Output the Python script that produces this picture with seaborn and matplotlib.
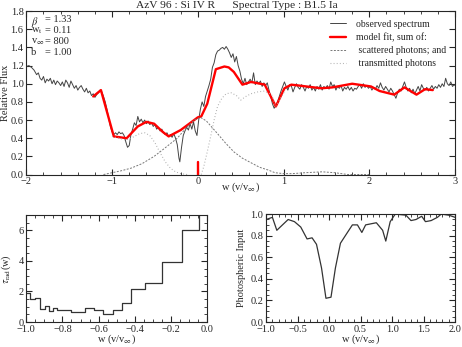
import numpy as np
import matplotlib
matplotlib.use("Agg")
import matplotlib.pyplot as plt
import seaborn as sns
from matplotlib.ticker import MultipleLocator

# observed spectrum (w, relative flux)
obs_w = [-2.00, -1.97, -1.94, -1.91, -1.88, -1.86, -1.84, -1.82, -1.80, -1.78,
         -1.76, -1.74, -1.72, -1.70, -1.68, -1.66, -1.64, -1.62, -1.60, -1.58,
         -1.56, -1.54, -1.52, -1.50, -1.48, -1.46, -1.44, -1.42, -1.40, -1.38,
         -1.36, -1.34, -1.32, -1.30, -1.28, -1.26, -1.24, -1.22, -1.20, -1.18,
         -1.16, -1.14, -1.12, -1.10, -1.08, -1.06, -1.04, -1.02, -1.00, -0.98,
         -0.96, -0.94, -0.92, -0.90, -0.88, -0.86, -0.84, -0.82, -0.80, -0.78,
         -0.76, -0.74, -0.72, -0.70, -0.68, -0.66, -0.64, -0.62, -0.60, -0.58,
         -0.56, -0.54, -0.52, -0.50, -0.48, -0.46, -0.44, -0.42, -0.40, -0.38,
         -0.36, -0.34, -0.32, -0.30, -0.28, -0.26, -0.24, -0.22, -0.21, -0.19,
         -0.17, -0.15, -0.13, -0.11, -0.09, -0.07, -0.05, -0.03, -0.01, 0.01,
         0.03, 0.05, 0.07, 0.09, 0.11, 0.13, 0.15, 0.17, 0.19, 0.21,
         0.23, 0.25, 0.27, 0.29, 0.31, 0.33, 0.35, 0.37, 0.39, 0.41,
         0.43, 0.45, 0.47, 0.49, 0.51, 0.53, 0.55, 0.57, 0.59, 0.61,
         0.63, 0.65, 0.67, 0.69, 0.71, 0.73, 0.75, 0.77, 0.79, 0.81,
         0.83, 0.85, 0.87, 0.89, 0.91, 0.93, 0.95, 0.97, 0.99, 1.01,
         1.03, 1.05, 1.07, 1.09, 1.11, 1.13, 1.15, 1.17, 1.19, 1.21,
         1.23, 1.25, 1.27, 1.29, 1.31, 1.33, 1.35, 1.37, 1.39, 1.41,
         1.43, 1.45, 1.47, 1.49, 1.51, 1.53, 1.55, 1.57, 1.59, 1.61,
         1.63, 1.65, 1.67, 1.69, 1.71, 1.73, 1.75, 1.77, 1.79, 1.81,
         1.83, 1.85, 1.87, 1.89, 1.91, 1.93, 1.95, 1.97, 1.99, 2.01,
         2.03, 2.05, 2.07, 2.09, 2.11, 2.13, 2.15, 2.17, 2.19, 2.21,
         2.23, 2.25, 2.27, 2.29, 2.31, 2.33, 2.35, 2.37, 2.39, 2.41,
         2.43, 2.45, 2.47, 2.49, 2.51, 2.53, 2.55, 2.57, 2.59, 2.61,
         2.63, 2.65, 2.67, 2.69, 2.71, 2.73, 2.75, 2.77, 2.79, 2.81,
         2.83, 2.85, 2.87, 2.89, 2.91, 2.93, 2.95, 2.97, 2.99, 3.00]
obs_f = [1.19, 1.20, 1.18, 1.15, 1.10, 1.12, 1.06, 1.04, 1.08, 1.01,
         1.05, 1.03, 1.06, 1.00, 1.04, 0.99, 1.03, 1.01, 0.98, 1.02,
         0.97, 1.04, 1.01, 0.96, 1.03, 0.99, 0.95, 0.98, 0.93, 0.96,
         0.98, 0.94, 0.91, 0.95, 0.90, 0.92, 0.87, 0.89, 0.85, 0.88,
         0.90, 0.93, 0.91, 0.86, 0.80, 0.72, 0.62, 0.53, 0.47, 0.44,
         0.46, 0.44, 0.47, 0.45, 0.46, 0.43, 0.36, 0.30, 0.32, 0.44,
         0.50, 0.57, 0.54, 0.64, 0.58, 0.61, 0.57, 0.60, 0.56, 0.59,
         0.55, 0.57, 0.53, 0.55, 0.50, 0.52, 0.48, 0.50, 0.46, 0.44,
         0.46, 0.42, 0.44, 0.41, 0.45, 0.40, 0.33, 0.18, 0.14, 0.30,
         0.43, 0.48, 0.52, 0.49, 0.56, 0.50, 0.58, 0.48, 0.43, 0.60,
         0.72, 0.80, 0.75, 0.86, 0.92, 0.98, 1.05, 1.18, 1.23, 1.32,
         1.36, 1.37, 1.39, 1.40, 1.38, 1.41, 1.38, 1.34, 1.29, 1.33,
         1.24, 1.30, 1.20, 1.14, 1.05, 1.00, 1.06, 0.99, 1.02, 1.05,
         1.01, 1.12, 0.99, 1.03, 1.00, 1.03, 0.97, 1.01, 0.98, 1.01,
         0.93, 0.86, 0.78, 0.73, 0.76, 0.80, 0.86, 0.92, 0.97, 1.02,
         0.97, 0.93, 0.99, 0.98, 0.91, 0.96, 1.00, 0.96, 0.94, 0.99,
         0.96, 0.92, 0.97, 0.95, 0.99, 0.93, 0.96, 0.92, 0.97, 0.94,
         0.99, 0.93, 0.97, 0.95, 0.98, 0.94, 1.02, 0.97, 0.99, 0.93,
         0.97, 0.95, 0.98, 0.92, 0.96, 0.94, 0.97, 0.93, 0.96, 0.92,
         0.95, 0.94, 0.97, 0.99, 0.95, 1.00, 0.96, 0.98, 0.95, 0.97,
         0.93, 0.96, 0.94, 0.98, 0.95, 1.01, 0.96, 0.93, 0.97, 0.94,
         0.91, 0.95, 0.92, 0.88, 0.84, 0.90, 0.94, 0.92, 0.97, 1.02,
         0.96, 0.92, 0.95, 0.90, 0.94, 0.89, 0.93, 0.97, 0.92, 0.99,
         0.95, 0.93, 0.96, 0.92, 0.95, 0.98, 0.94, 0.97, 0.95, 0.99,
         0.96, 1.00, 0.97, 1.06, 1.00, 0.98, 1.02, 0.97, 0.99, 0.98]

# model fit
model_w = [-1.22, -1.13, -0.98, -0.83, -0.70, -0.60, -0.51, -0.41, -0.34, -0.20,
           -0.10, 0.00, 0.04, 0.11, 0.21, 0.31, 0.36, 0.42, 0.52, 0.62,
           0.78, 0.91, 1.01, 1.09, 1.18, 1.44, 1.57, 1.80, 2.02, 2.12,
           2.29, 2.41, 2.55, 2.65, 2.74]
model_f = [0.86, 0.93, 0.42, 0.40, 0.53, 0.58, 0.56, 0.47, 0.42, 0.49,
           0.56, 0.63, 0.64, 0.78, 1.16, 1.19, 1.18, 1.13, 0.99, 1.02,
           0.99, 0.75, 0.95, 0.99, 0.98, 0.95, 0.96, 1.00, 0.97, 0.92,
           0.88, 0.96, 0.88, 0.94, 0.93]

# scattered photons
scat_w = [-1.10, -1.00, -0.90, -0.78, -0.65, -0.51, -0.40, -0.32, -0.24, -0.12,
          -0.04, 0.03, 0.10, 0.23, 0.32, 0.42, 0.52, 0.62, 0.72, 0.82,
          0.90, 1.00, 1.10, 1.25, 1.45, 1.60, 1.75, 2.00]
scat_f = [0.00, 0.02, 0.04, 0.07, 0.12, 0.20, 0.28, 0.34, 0.40, 0.53,
          0.60, 0.63, 0.59, 0.45, 0.35, 0.25, 0.18, 0.13, 0.08, 0.05,
          0.02, 0.01, 0.01, 0.02, 0.03, 0.02, 0.00, 0.00]

# transmitted photons (blue and red parts)
trans1_w = [-1.00, -0.92, -0.84, -0.76, -0.68, -0.62, -0.56, -0.50, -0.44, -0.38,
            -0.32, -0.26, -0.20, -0.12]
trans1_f = [0.42, 0.40, 0.38, 0.41, 0.45, 0.46, 0.43, 0.35, 0.24, 0.14,
            0.07, 0.03, 0.01, 0.00]
trans2_w = [0.04, 0.07, 0.11, 0.15, 0.19, 0.23, 0.28, 0.33, 0.39, 0.45,
            0.50, 0.56, 0.62, 0.70, 0.78, 0.86, 0.91, 0.97, 1.02]
trans2_f = [0.00, 0.09, 0.25, 0.42, 0.60, 0.75, 0.84, 0.89, 0.90, 0.87,
            0.82, 0.86, 0.89, 0.91, 0.92, 0.88, 0.75, 0.85, 0.93]

# tau_rad(w) step function
tau_w = [-1.000, -0.978, -0.954, -0.923, -0.894, -0.875, -0.853, -0.831, -0.752, -0.673,
         -0.624, -0.574, -0.523, -0.472, -0.422, -0.345, -0.248, -0.141, -0.046, 0.0]
tau_v = [1.93, 1.50, 1.60, 0.86, 1.07, 0.75, 0.90, 0.79, 0.64, 0.90,
         0.79, 0.51, 0.79, 1.24, 2.14, 2.53, 3.94, 6.00, 9.00, 9.00]

# photospheric input
phot_w = [-1.00, -0.90, -0.83, -0.65, -0.55, -0.45, -0.35, -0.27, -0.20, -0.12,
          -0.05, 0.03, 0.10, 0.18, 0.28, 0.37, 0.45, 0.52, 0.58, 0.75,
          0.85, 0.90, 0.97, 1.05, 1.22, 1.30, 1.38, 1.47, 1.53, 1.62,
          1.72, 1.78, 1.90, 2.00]
phot_v = [0.95, 0.97, 0.85, 0.95, 0.93, 0.88, 0.77, 0.78, 0.72, 0.50,
          0.22, 0.23, 0.50, 0.73, 0.82, 0.90, 0.90, 0.83, 0.90, 0.92,
          0.85, 0.75, 0.93, 1.00, 0.99, 0.94, 0.95, 0.98, 0.93, 0.94,
          0.97, 1.00, 0.99, 0.97]

params = [(r"$\beta$", "1.33"), (r"w$_{\rm t}$", "0.11"),
          (r"v$_\infty$", "800"), ("b", "1.00")]

sns.set_style("ticks")
plt.rcParams["font.family"] = ["Liberation Serif", "DejaVu Serif"]
plt.rcParams["mathtext.fontset"] = "stix"
plt.rcParams["xtick.direction"] = "in"
plt.rcParams["ytick.direction"] = "in"
plt.rcParams["axes.linewidth"] = 0.8
plt.rcParams["xtick.labelsize"] = 7.5
plt.rcParams["ytick.labelsize"] = 7.5
plt.rcParams["xtick.major.size"] = 4
plt.rcParams["ytick.major.size"] = 4
plt.rcParams["xtick.minor.size"] = 2
plt.rcParams["ytick.minor.size"] = 2
plt.rcParams["xtick.major.pad"] = 2
plt.rcParams["ytick.major.pad"] = 2

fig = plt.figure(figsize=(4.62, 3.47), dpi=100)
ax = fig.add_axes([0.057, 0.497, 0.928, 0.471])
ax2 = fig.add_axes([0.057, 0.072, 0.391, 0.308])
ax3 = fig.add_axes([0.576, 0.072, 0.409, 0.311])

obs_c = "#444444"
sns.lineplot(x=obs_w, y=obs_f, ax=ax, color=obs_c, lw=0.7, sort=False,
             label="observed spectrum")
sns.lineplot(x=model_w, y=model_f, ax=ax, color="red", lw=1.7, sort=False,
             label="model fit, sum of:")
sns.lineplot(x=scat_w, y=scat_f, ax=ax, color="#777777", lw=0.7, sort=False,
             label=" scattered photons; and")
ax.lines[-1].set_dashes([2, 1.5])
sns.lineplot(x=trans1_w, y=trans1_f, ax=ax, color="#aaaaaa", lw=0.8, sort=False,
             label=" transmitted photons")
ax.lines[-1].set_dashes([0.8, 2])
sns.lineplot(x=trans2_w, y=trans2_f, ax=ax, color="#aaaaaa", lw=0.8, sort=False)
ax.lines[-1].set_dashes([0.8, 2])
ax.plot([0, 0], [0, 0.14], color="red", lw=1.7)

ax.set_xlim(-2, 3)
ax.set_ylim(0, 1.8)
ax.xaxis.set_major_locator(MultipleLocator(1))
ax.xaxis.set_minor_locator(MultipleLocator(0.2))
ax.yaxis.set_major_locator(MultipleLocator(0.2))
ax.set_ylabel("Relative Flux", fontsize=7.5)
ax.yaxis.set_label_coords(-0.039, 0.5)
ax.set_xlabel(r"w (v/v$_\infty$)", fontsize=7.5, va="top")
ax.xaxis.set_label_coords(0.5, -0.035)
ax.legend(loc="upper right", frameon=False, fontsize=7, handlelength=1.7,
          labelspacing=0.4, borderaxespad=0.5, handletextpad=1.0)

for i, (name, val) in enumerate(params):
    y = 0.975 - i * 0.066
    ax.text(0.011, y, name, transform=ax.transAxes, fontsize=7.5, va="top")
    ax.text(0.044, y, "= " + val, transform=ax.transAxes, fontsize=7.5, va="top")

fig.text(0.513, 0.983, "AzV 96 : Si IV R      Spectral Type : B1.5 Ia",
         ha="center", va="center", fontsize=8.2)

sns.lineplot(x=tau_w, y=tau_v, ax=ax2, color="#333333", lw=0.9, sort=False,
             drawstyle="steps-post")
ax2.set_xlim(-1, 0)
ax2.set_ylim(0, 7)
ax2.xaxis.set_major_locator(MultipleLocator(0.2))
ax2.xaxis.set_minor_locator(MultipleLocator(0.05))
ax2.yaxis.set_major_locator(MultipleLocator(2))
ax2.yaxis.set_minor_locator(MultipleLocator(0.5))
ax2.set_xlabel(r"w (v/v$_\infty$)", fontsize=7.5, va="top")
ax2.xaxis.set_label_coords(0.5, -0.095)
ax2.set_ylabel(r"$\tau_{\rm rad}$(w)", fontsize=7.5)
ax2.yaxis.set_label_coords(-0.075, 0.5)

sns.lineplot(x=phot_w, y=phot_v, ax=ax3, color="#333333", lw=0.9, sort=False)
ax3.set_xlim(-1, 2)
ax3.set_ylim(0, 1)
ax3.xaxis.set_major_locator(MultipleLocator(0.5))
ax3.xaxis.set_minor_locator(MultipleLocator(0.1))
ax3.yaxis.set_major_locator(MultipleLocator(0.2))
ax3.yaxis.set_minor_locator(MultipleLocator(0.05))
ax3.set_xlabel(r"w (v/v$_\infty$)", fontsize=7.5, va="top")
ax3.xaxis.set_label_coords(0.5, -0.095)
ax3.set_ylabel("Photospheric Input", fontsize=7.5)
ax3.yaxis.set_label_coords(-0.105, 0.5)

for a in (ax, ax2, ax3):
    a.tick_params(which="both", top=True, right=True, direction="in")
    for s in a.spines.values():
        s.set_visible(True)

assert len(obs_w) == len(obs_f)
fig.savefig("out.png", dpi=100)
